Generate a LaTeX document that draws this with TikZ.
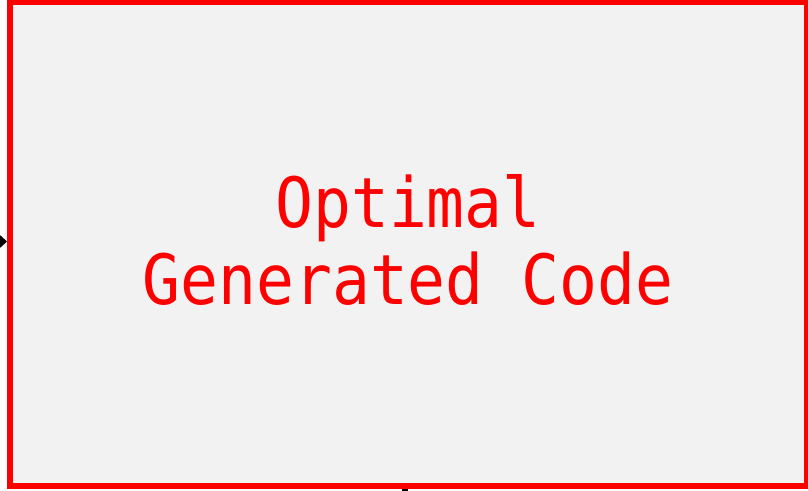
\documentclass[tikz,border=0pt]{standalone}
\usepackage{fontspec}
\newfontfamily\codefont{DejaVu Sans Mono}
\usetikzlibrary{arrows.meta}
\definecolor{boxfill}{HTML}{F2F2F2}
\definecolor{boxred}{HTML}{FF0000}
\tikzset{
  codebox/.style={draw=boxred, fill=boxfill, line width=6pt, rectangle,
    minimum width=797pt, minimum height=484pt, inner sep=0pt, outer sep=0pt},
  codetext/.style={text=boxred, font=\codefont\fontsize{63}{75}\selectfont, align=center},
  flow/.style={draw=black, line width=6pt, -{Triangle[length=12pt,width=22pt,line width=0pt]}},
  flowline/.style={draw=black, line width=6pt}
}
\begin{document}
\begin{tikzpicture}[x=1pt,y=-1pt]
  \useasboundingbox (0,0) rectangle (808,490);
  \begin{scope}
    \clip (0,0) rectangle (808,490);
    % the generated-code block
    \node[codebox] (gen) at (408.5,244) {};
    \node[codetext] (label) at (408,240) {\scalebox{1}[1.1]{Optimal}\\[2pt]\scalebox{1}[1.1]{Generated Code}};
    % incoming and outgoing connectors
    \coordinate (src) at (-40,241.5);
    \coordinate (dst) at (405,540);
    \draw[flow] (src) -- ([xshift=-3pt]gen.west |- src);
    \draw[flowline] (gen.south -| dst) -- (dst);
    % redraw border over the connector ends
    \draw[draw=boxred, line width=6pt] (gen.south west) rectangle (gen.north east);
  \end{scope}
\end{tikzpicture}
\end{document}
